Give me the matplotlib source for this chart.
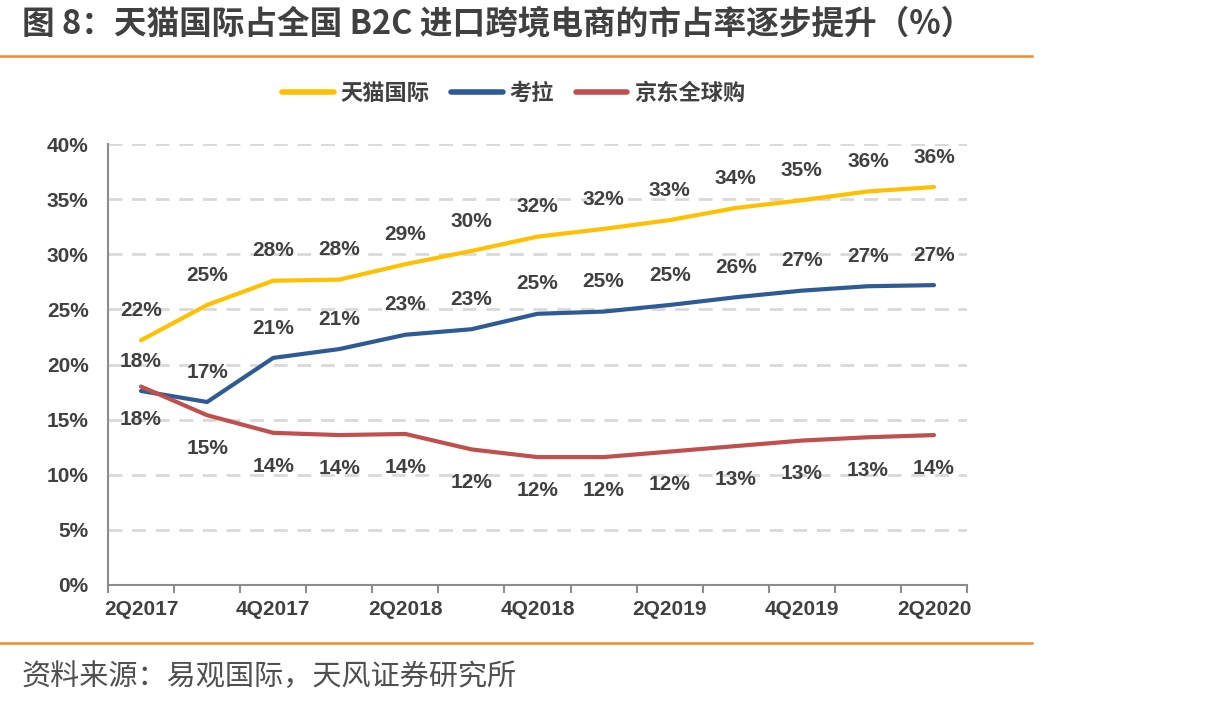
import matplotlib
matplotlib.use("Agg")
import matplotlib.pyplot as plt
from matplotlib.lines import Line2D

plt.rcParams['font.family'] = ['Liberation Sans', 'Noto Sans CJK SC', 'DejaVu Sans']

quarters = ["2Q2017", "3Q2017", "4Q2017", "1Q2018", "2Q2018", "3Q2018", "4Q2018",
            "1Q2019", "2Q2019", "3Q2019", "4Q2019", "1Q2020", "2Q2020"]
tmall = [22.2, 25.4, 27.6, 27.7, 29.1, 30.3, 31.6, 32.3, 33.1, 34.2, 34.9, 35.7, 36.1]
kaola = [17.6, 16.6, 20.6, 21.4, 22.7, 23.2, 24.6, 24.8, 25.4, 26.1, 26.7, 27.1, 27.2]
jd = [18.0, 15.4, 13.8, 13.6, 13.7, 12.3, 11.6, 11.6, 12.1, 12.6, 13.1, 13.4, 13.6]
names = ["天猫国际", "考拉", "京东全球购"]
colors = ["#FFC000", "#2E5B95", "#C0504D"]

txt_color = "#404040"
cjk = ['Noto Sans CJK SC', 'DejaVu Sans']

fig = plt.figure(figsize=(12.23, 7.06), dpi=100, facecolor='white')
ax = fig.add_axes([0.0883, 0.1714, 0.7024, 0.6246])

x = list(range(len(quarters)))
series = [tmall, kaola, jd]
offsets = [21.5, 21.5, -24]
for vals, c, off in zip(series, colors, offsets):
    ax.plot(x, vals, color=c, lw=3, solid_capstyle='round', zorder=3)
    for xi, v in zip(x, vals):
        ax.annotate("{:.0f}%".format(v), (xi, v), xytext=(0, off), textcoords='offset points',
                    ha='center', va='center', fontsize=15, fontweight='bold', color=txt_color)

ax.set_xlim(-0.5, len(quarters) - 0.5)
ax.set_ylim(0, 40)
ax.set_yticks(range(0, 41, 5))
ax.set_yticklabels(["{}%".format(t) for t in range(0, 41, 5)], fontsize=15,
                   fontweight='bold', color=txt_color)
ax.tick_params(axis='y', length=0, pad=14)

ax.set_xticks([i - 0.5 for i in range(len(quarters) + 1)])
ax.set_xticklabels([])
ax.set_xticks(x[::2], minor=True)
ax.set_xticklabels(quarters[::2], minor=True, fontsize=15, fontweight='bold', color=txt_color)
ax.tick_params(axis='x', which='major', length=6, width=1.5, color='#8C8C8C', direction='out')
ax.tick_params(axis='x', which='minor', length=0, pad=11)

for y in range(5, 41, 5):
    ax.axhline(y, color='#D9D9D9', lw=2, ls=(0, (5, 3.5)), zorder=1)

for s in ['top', 'right']:
    ax.spines[s].set_visible(False)
for s in ['left', 'bottom']:
    ax.spines[s].set_color('#8C8C8C')
    ax.spines[s].set_linewidth(1.5)

handles = [Line2D([0], [0], color=c, lw=4, solid_capstyle='round') for c in colors]
leg = fig.legend(handles, names, loc='center', bbox_to_anchor=(0.42, 1 - 93 / 706), ncol=3,
                 frameon=False, handlelength=2.3, handletextpad=0.3, columnspacing=1.0,
                 prop={'family': cjk, 'size': 16, 'weight': 'bold'})
for t in leg.get_texts():
    t.set_color(txt_color)

fig.text(0.018, 1 - 24 / 706, "图 8：天猫国际占全国 B2C 进口跨境电商的市占率逐步提升（%）",
         fontsize=23.5, fontweight='bold', color=txt_color, family=cjk, ha='left', va='center')
fig.text(0.018, 1 - 677 / 706, "资料来源：易观国际，天风证券研究所",
         fontsize=21, color='#505050', family=cjk, ha='left', va='center')

fig.add_artist(Line2D([0, 0.844], [1 - 56 / 706] * 2, color='#F08A2C', lw=1.8))
fig.add_artist(Line2D([0, 0.844], [1 - 643 / 706] * 2, color='#F08A2C', lw=1.8))

fig.savefig("out.png", dpi=100, facecolor='white')
